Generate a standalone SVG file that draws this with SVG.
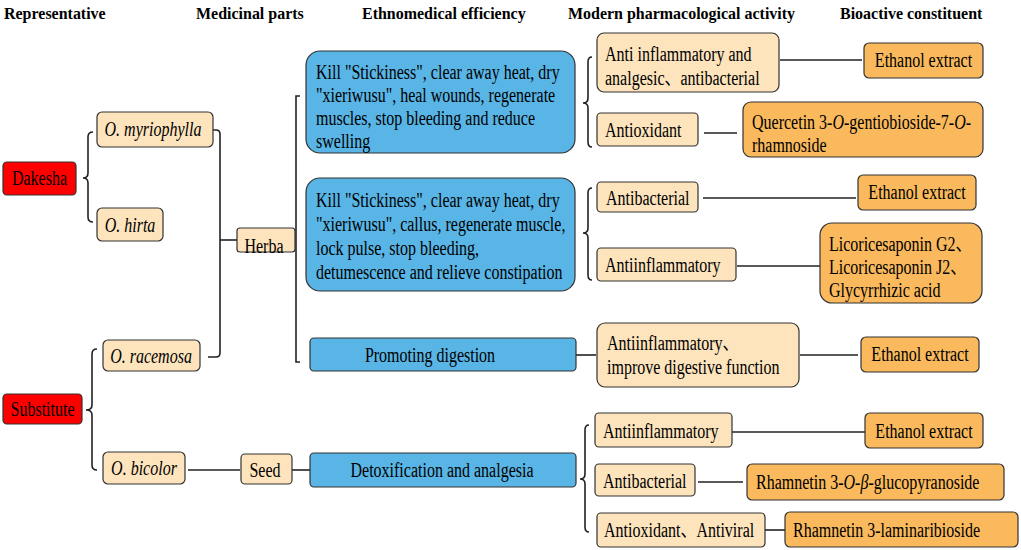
<svg xmlns="http://www.w3.org/2000/svg" width="1021" height="550" viewBox="0 0 1021 550">
<style>
text{font-family:'Liberation Serif','Times New Roman',Times,'Noto Sans CJK SC',serif;font-size:20px;fill:#000}
.h{font-weight:bold;font-size:17px}
.i{font-style:italic}
.red{fill:#ff0000;stroke:#333;stroke-width:1.2}
.tan{fill:#fde4bd;stroke:#333;stroke-width:1.2}
.org{fill:#f9b95c;stroke:#333;stroke-width:1.2}
.blu{fill:#58b5e6;stroke:#333;stroke-width:1.2}
.c{text-anchor:middle}
.ln{fill:none;stroke:#222;stroke-width:1.6}
</style>
<g id="headers">
<text class="h" transform="translate(4,19) scale(.94,1)">Representative</text>
<text class="h" transform="translate(196,19) scale(.94,1)">Medicinal parts</text>
<text class="h" transform="translate(362,19) scale(.94,1)">Ethnomedical efficiency</text>
<text class="h" transform="translate(568,19) scale(.94,1)">Modern pharmacological activity</text>
<text class="h" transform="translate(840,19) scale(.94,1)">Bioactive constituent</text>
</g>
<g id="connectors">
<path class="ln" d="M93 132 Q88 132 88 137 L88 173 Q88 178 83 178 Q88 178 88 183 L88 217 Q88 222 93 222"/>
<path class="ln" d="M97 349 Q92 349 92 354 L92 405 Q92 410 86 410 Q92 410 92 415 L92 465 Q92 470 97 470"/>
<path class="ln" d="M213 130 L216 130 Q220 130 220 134 L220 353 Q220 357 216 357 L208 357"/>
<path class="ln" d="M220 240 L237 240"/>
<path class="ln" d="M300 96 L296 96 L296 362 L300 362"/>
<path class="ln" d="M188 470 L240 470"/>
<path class="ln" d="M292 470 L310 470"/>
<path class="ln" d="M576 355 L596 355"/>
<path class="ln" d="M592 57 Q588 57 588 62 L588 98 Q588 103 583 103 Q588 103 588 108 L588 142 Q588 147 592 147"/>
<path class="ln" d="M592 188 Q588 188 588 193 L588 228 Q588 233 583 233 Q588 233 588 238 L588 275 Q588 280 592 280"/>
<path class="ln" d="M589 425 Q585 425 585 430 L585 474 Q585 479 580 479 Q585 479 585 484 L585 527 Q585 532 589 532"/>
<path class="ln" d="M780 60 L862 60"/>
<path class="ln" d="M704 133 L737 133"/>
<path class="ln" d="M703 198 L856 198"/>
<path class="ln" d="M737 266 L820 266"/>
<path class="ln" d="M800 355 L858 355"/>
<path class="ln" d="M732 432 L865 432"/>
<path class="ln" d="M698 482 L743 482"/>
<path class="ln" d="M765 530 L785 530"/>
</g>
<g id="dakesha"><rect class="red" x="3" y="162" width="73" height="33" rx="4"/><text class="c" transform="translate(39.5,185) scale(.8,1)">Dakesha</text></g>
<g id="substitute"><rect class="red" x="3" y="394" width="79" height="30" rx="4"/><text class="c" transform="translate(42.5,416) scale(.8,1)">Substitute</text></g>
<g id="myriophylla"><rect class="tan" x="97" y="112" width="116" height="35" rx="5"/><text class="c i" transform="translate(153,136) scale(.8,1)">O. myriophylla</text></g>
<g id="hirta"><rect class="tan" x="97" y="208" width="66" height="33" rx="5"/><text class="c i" transform="translate(130,232) scale(.8,1)">O. hirta</text></g>
<g id="racemosa"><rect class="tan" x="103" y="340" width="97" height="31" rx="5"/><text class="c i" transform="translate(151,363) scale(.8,1)">O. racemosa</text></g>
<g id="bicolor"><rect class="tan" x="103" y="452" width="82" height="32" rx="5"/><text class="c i" transform="translate(144,475) scale(.8,1)">O. bicolor</text></g>
<g id="herba"><rect class="tan" x="237" y="228" width="58" height="24" rx="3"/><text class="c" transform="translate(264,253) scale(.8,1)">Herba</text></g>
<g id="seed"><rect class="tan" x="241" y="454" width="51" height="30" rx="4"/><text class="c" transform="translate(265,477) scale(.8,1)">Seed</text></g>
<g id="eff1"><rect class="blu" x="306" y="51" width="269" height="102" rx="14"/>
<text transform="translate(316,79) scale(.8,1)">Kill "Stickiness", clear away heat, dry</text>
<text transform="translate(316,102) scale(.8,1)">"xieriwusu", heal wounds, regenerate</text>
<text transform="translate(316,125) scale(.8,1)">muscles, stop bleeding and reduce</text>
<text transform="translate(316,148) scale(.8,1)">swelling</text></g>
<g id="eff2"><rect class="blu" x="306" y="178" width="269" height="113" rx="14"/>
<text transform="translate(316,207) scale(.8,1)">Kill "Stickiness", clear away heat, dry</text>
<text transform="translate(316,231) scale(.8,1)">"xieriwusu", callus, regenerate muscle,</text>
<text transform="translate(316,255) scale(.8,1)">lock pulse, stop bleeding,</text>
<text transform="translate(316,279) scale(.8,1)">detumescence and relieve constipation</text></g>
<g id="eff3"><rect class="blu" x="310" y="338" width="266" height="33" rx="4"/><text class="c" transform="translate(430,362) scale(.8,1)">Promoting digestion</text></g>
<g id="eff4"><rect class="blu" x="310" y="453" width="266" height="34" rx="4"/><text class="c" transform="translate(442,477) scale(.8,1)">Detoxification and analgesia</text></g>
<g id="act1"><rect class="tan" x="597" y="33" width="182" height="59" rx="7"/><text transform="translate(605,61) scale(.8,1)">Anti inflammatory and</text><text transform="translate(605,85) scale(.8,1)">analgesic、antibacterial</text></g>
<g id="act2"><rect class="tan" x="597" y="113" width="101" height="33" rx="4"/><text transform="translate(605,137) scale(.8,1)">Antioxidant</text></g>
<g id="act3"><rect class="tan" x="597" y="182" width="101" height="30" rx="4"/><text transform="translate(606,205) scale(.8,1)">Antibacterial</text></g>
<g id="act4"><rect class="tan" x="597" y="248" width="139" height="33" rx="4"/><text transform="translate(605,272) scale(.8,1)">Antiinflammatory</text></g>
<g id="act5"><rect class="tan" x="597" y="323" width="202" height="64" rx="8"/><text transform="translate(607,350) scale(.8,1)">Antiinflammatory、</text><text transform="translate(607,374) scale(.8,1)">improve digestive function</text></g>
<g id="act6"><rect class="tan" x="595" y="413" width="137" height="34" rx="4"/><text transform="translate(603,438) scale(.8,1)">Antiinflammatory</text></g>
<g id="act7"><rect class="tan" x="595" y="464" width="100" height="32" rx="4"/><text transform="translate(603,488) scale(.8,1)">Antibacterial</text></g>
<g id="act8"><rect class="tan" x="597" y="513" width="168" height="34" rx="4"/><text transform="translate(604,537) scale(.8,1)">Antioxidant、Antiviral</text></g>
<g id="con1"><rect class="org" x="864" y="43" width="119" height="35" rx="5"/><text class="c" transform="translate(923.5,67) scale(.8,1)">Ethanol extract</text></g>
<g id="con2"><rect class="org" x="743" y="102" width="240" height="55" rx="8"/><text transform="translate(752,129) scale(.8,1)">Quercetin 3-<tspan class="i">O</tspan>-gentiobioside-7-<tspan class="i">O</tspan>-</text><text transform="translate(752,152) scale(.8,1)">rhamnoside</text></g>
<g id="con3"><rect class="org" x="858" y="175" width="118" height="35" rx="5"/><text class="c" transform="translate(917,199) scale(.8,1)">Ethanol extract</text></g>
<g id="con4"><rect class="org" x="820" y="223" width="162" height="80" rx="12"/><text transform="translate(829,251) scale(.8,1)">Licoricesaponin G2、</text><text transform="translate(829,274) scale(.8,1)">Licoricesaponin J2、</text><text transform="translate(829,297) scale(.8,1)">Glycyrrhizic acid</text></g>
<g id="con5"><rect class="org" x="861" y="337" width="118" height="35" rx="5"/><text class="c" transform="translate(920,361) scale(.8,1)">Ethanol extract</text></g>
<g id="con6"><rect class="org" x="865" y="413" width="118" height="35" rx="5"/><text class="c" transform="translate(924,438) scale(.8,1)">Ethanol extract</text></g>
<g id="con7"><rect class="org" x="747" y="464" width="257" height="36" rx="5"/><text transform="translate(756,489) scale(.8,1)">Rhamnetin 3-<tspan class="i">O</tspan>-<tspan class="i">β</tspan>-glucopyranoside</text></g>
<g id="con8"><rect class="org" x="785" y="512" width="233" height="35" rx="5"/><text transform="translate(793,537) scale(.8,1)">Rhamnetin 3-laminaribioside</text></g>
</svg>
